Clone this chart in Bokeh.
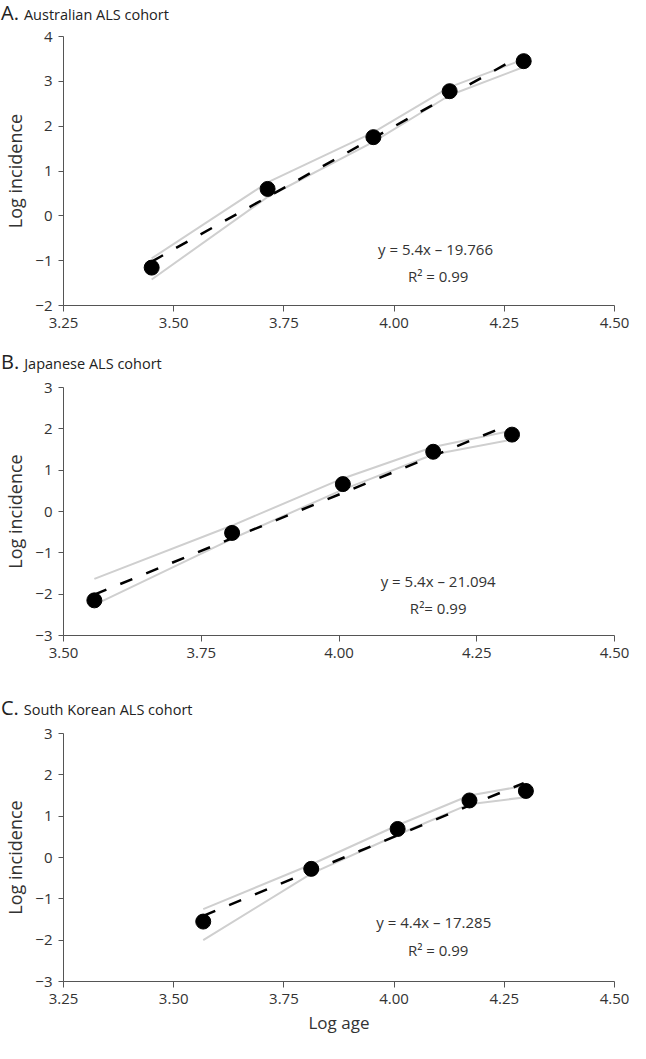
from bokeh.plotting import figure
from bokeh.models import Label, FixedTicker, Range1d, Div
from bokeh.layouts import column
from bokeh.embed import file_html
from bokeh.resources import INLINE

# ---------------- data ----------------
# Panel A: Australian ALS cohort
a_letter = "A."
a_title = "Australian ALS cohort"
a_log_age = [3.450, 3.713, 3.953, 4.126, 4.294]
a_log_inc = [-1.155, 0.60, 1.755, 2.78, 3.45]
a_band_upper = [-0.95, 0.745, 1.86, 2.87, 3.49]
a_band_lower = [-1.42, 0.42, 1.65, 2.69, 3.32]
a_fit_x = [3.450, 4.286]
a_fit_y = [-1.02, 3.56]
a_equation = "y = 5.4x \u2013 19.766"
a_r2 = "R\u00b2 = 0.99"

# Panel B: Japanese ALS cohort
b_letter = "B."
b_title = "Japanese ALS cohort"
b_log_age = [3.556, 3.806, 4.007, 4.171, 4.314]
b_log_inc = [-2.15, -0.518, 0.663, 1.445, 1.86]
b_band_upper = [-1.63, -0.34, 0.80, 1.56, 1.96]
b_band_lower = [-2.26, -0.66, 0.53, 1.38, 1.74]
b_fit_x = [3.556, 4.304]
b_fit_y = [-2.01, 2.07]
b_equation = "y = 5.4x \u2013 21.094"
b_r2 = "R\u00b2= 0.99"

# Panel C: South Korean ALS cohort
c_letter = "C."
c_title = "South Korean ALS cohort"
c_log_age = [3.567, 3.812, 4.008, 4.171, 4.299]
c_log_inc = [-1.55, -0.275, 0.69, 1.38, 1.61]
c_band_upper = [-1.25, -0.17, 0.78, 1.50, 1.74]
c_band_lower = [-2.00, -0.39, 0.55, 1.29, 1.46]
c_fit_x = [3.567, 4.294]
c_fit_y = [-1.41, 1.80]
c_equation = "y = 4.4x \u2013 17.285"
c_r2 = "R\u00b2 = 0.99"

# axes / ticks
x_ticks_ac = [3.25, 3.50, 3.75, 4.00, 4.25, 4.50]
x_tick_labels_ac = ["3.25", "3.50", "3.75", "4.00", "4.25", "4.50"]
x_ticks_b = [3.50, 3.75, 4.00, 4.25, 4.50]
x_tick_labels_b = ["3.50", "3.75", "4.00", "4.25", "4.50"]
y_ticks_a = [-2, -1, 0, 1, 2, 3, 4]
y_tick_labels_a = ["\u22122", "\u22121", "0", "1", "2", "3", "4"]
y_ticks_bc = [-3, -2, -1, 0, 1, 2, 3]
y_tick_labels_bc = ["\u22123", "\u22122", "\u22121", "0", "1", "2", "3"]
y_axis_title = "Log incidence"
x_axis_title = "Log age"

# ---------------- styling ----------------
FONT = "Open Sans"
W = 630
LEFT, RIGHT = 56, 16
BAND = "#cfcfcf"
AXIS = "#555555"
TXT = "#333333"


def make_title(letter, subtitle, height, pad_top):
    html = (f'<span style="font-size:20px">{letter}</span>'
            f'<span style="font-size:14.5px; margin-left:5px">{subtitle}</span>')
    return Div(text=html, width=W, height=height, margin=(0, 0, 0, 0),
               styles={"font-family": FONT, "color": "#222222",
                       "line-height": "26px", "padding-top": f"{pad_top}px",
                       "padding-left": "1px",
                       "box-sizing": "border-box", "white-space": "nowrap"})


def make_panel(xs, ys, up, lo, fx, fy, eq, r2, eq_xy, r2_xy,
               xr, yr, xt, xtl, yt, ytl, height, top, bottom, xlabel=None):
    p = figure(width=W, height=height, x_range=Range1d(*xr), y_range=Range1d(*yr),
               min_border_left=LEFT, min_border_right=RIGHT,
               min_border_top=top, min_border_bottom=bottom,
               output_backend="svg", toolbar_location=None, tools="", title=None)
    p.grid.visible = False
    p.outline_line_color = None
    p.background_fill_color = "white"
    p.border_fill_color = "white"

    p.line(xs, up, line_color=BAND, line_width=2)
    p.line(xs, lo, line_color=BAND, line_width=2)
    p.line(fx, fy, line_color="black", line_width=2.5, line_dash="13 15")
    p.scatter(xs, ys, size=15, marker="circle", fill_color="black", line_color="black")

    for ax in (p.xaxis[0], p.yaxis[0]):
        ax.axis_line_color = AXIS
        ax.axis_line_width = 1
        ax.major_tick_line_color = AXIS
        ax.major_tick_in = 0
        ax.minor_tick_line_color = None
        ax.major_label_text_font = FONT
        ax.major_label_text_font_size = "15px"
        ax.major_label_text_color = TXT
        ax.axis_label_text_font = FONT
        ax.axis_label_text_font_style = "normal"
        ax.axis_label_text_color = TXT

    p.xaxis.ticker = FixedTicker(ticks=xt)
    p.xaxis.major_label_overrides = dict(zip(xt, xtl))
    p.xaxis.major_tick_out = 6
    p.xaxis.major_label_standoff = 6
    p.yaxis.ticker = FixedTicker(ticks=yt)
    p.yaxis.major_label_overrides = dict(zip(yt, ytl))
    p.yaxis.major_tick_out = 5
    p.yaxis.major_label_standoff = 6
    p.yaxis.axis_label = y_axis_title
    p.yaxis.axis_label_text_font_size = "18px"
    p.yaxis.axis_label_standoff = 5
    if xlabel:
        p.xaxis.axis_label = xlabel
        p.xaxis.axis_label_text_font_size = "17px"
        p.xaxis.axis_label_standoff = 4

    p.add_layout(Label(x=eq_xy[0], y=eq_xy[1], text=eq, text_font=FONT,
                       text_font_size="15px", text_color=TXT,
                       text_align="center", text_baseline="middle"))
    p.add_layout(Label(x=r2_xy[0], y=r2_xy[1], text=r2, text_font=FONT,
                       text_font_size="15px", text_color=TXT,
                       text_align="center", text_baseline="middle"))
    return p


tA = make_title(a_letter, a_title, 26, 0)
pA = make_panel(a_log_age, a_log_inc, a_band_upper, a_band_lower,
                a_fit_x, a_fit_y, a_equation, a_r2, (4.094, -0.74), (4.10, -1.35),
                (3.25, 4.50), (-2, 4), x_ticks_ac, x_tick_labels_ac,
                y_ticks_a, y_tick_labels_a, 319, 10, 40)
tB = make_title(b_letter, b_title, 30, 4)
pB = make_panel(b_log_age, b_log_inc, b_band_upper, b_band_lower,
                b_fit_x, b_fit_y, b_equation, b_r2, (4.18, -1.69), (4.18, -2.33),
                (3.50, 4.50), (-3, 3), x_ticks_b, x_tick_labels_b,
                y_ticks_bc, y_tick_labels_bc, 300, 12, 40)
tC = make_title(c_letter, c_title, 46, 20)
pC = make_panel(c_log_age, c_log_inc, c_band_upper, c_band_lower,
                c_fit_x, c_fit_y, c_equation, c_r2, (4.09, -1.57), (4.10, -2.24),
                (3.25, 4.50), (-3, 3), x_ticks_ac, x_tick_labels_ac,
                y_ticks_bc, y_tick_labels_bc, 321, 12, 61, xlabel=x_axis_title)

layout = column(tA, pA, tB, pB, tC, pC, spacing=0)
open("out.html", "w").write(file_html(layout, INLINE))
